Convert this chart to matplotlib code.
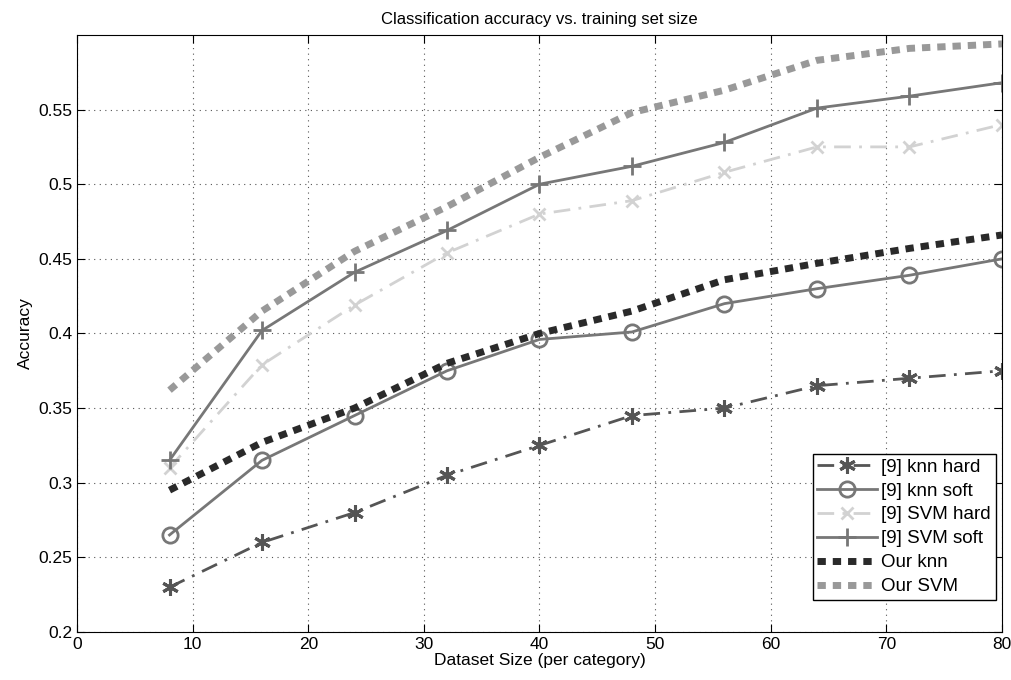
import numpy as np
import matplotlib
matplotlib.use('Agg')
import matplotlib.pyplot as plt

plt.rcParams['font.family'] = ['Liberation Sans', 'DejaVu Sans']

tamanhos = [8, 16, 24, 32, 40, 48, 56, 64, 72, 80]

knn_hard = [0.230, 0.260, 0.280, 0.305, 0.325, 0.345, 0.350, 0.365, 0.370, 0.375]
knn_soft = [0.265, 0.315, 0.345, 0.375, 0.396, 0.401, 0.420, 0.430, 0.439, 0.450]
svm_hard = [0.310, 0.379, 0.419, 0.454, 0.480, 0.489, 0.508, 0.525, 0.525, 0.540]
svm_soft = [0.315, 0.402, 0.441, 0.469, 0.500, 0.512, 0.528, 0.551, 0.559, 0.568]
our_knn = [0.295, 0.327, 0.350, 0.380, 0.400, 0.415, 0.436, 0.447, 0.457, 0.466]
our_svm = [0.362, 0.415, 0.455, 0.485, 0.518, 0.548, 0.563, 0.583, 0.591, 0.594]

# asterisco estilo MATLAB (6 bracos)
asterisco = (6, 2, 0)
traco_ponto = (0, (6, 3, 1, 3))
pontilhado = (0, (1.2, 1.0))

fig = plt.figure(figsize=(10.12, 6.8), dpi=100)
ax = fig.add_axes([0.0761, 0.0706, 0.914, 0.878])

ax.plot(tamanhos, knn_hard, color='#555555', linestyle=traco_ponto, linewidth=2,
        marker=asterisco, markersize=12, markeredgewidth=2.2, label='[9] knn hard')
ax.plot(tamanhos, knn_soft, color='#777777', linestyle='-', linewidth=2,
        marker='o', markersize=11, markerfacecolor='none', markeredgewidth=2,
        label='[9] knn soft')
ax.plot(tamanhos, svm_hard, color='#d2d2d2', linestyle=traco_ponto, linewidth=2,
        marker='x', markersize=9, markeredgewidth=2, label='[9] SVM hard')
ax.plot(tamanhos, svm_soft, color='#777777', linestyle='-', linewidth=2,
        marker='+', markersize=13, markeredgewidth=2, label='[9] SVM soft')
ax.plot(tamanhos, our_knn, color='#2a2a2a', linestyle=pontilhado,
        linewidth=5, label='Our knn')
ax.plot(tamanhos, our_svm, color='#999999', linestyle=pontilhado,
        linewidth=5, label='Our SVM')

ax.set_xlim(0, 80)
ax.set_ylim(0.2, 0.6)
ax.set_xticks(np.arange(0, 81, 10))
ax.set_yticks([0.2, 0.25, 0.3, 0.35, 0.4, 0.45, 0.5, 0.55])
ax.set_yticklabels(['0.2', '0.25', '0.3', '0.35', '0.4', '0.45', '0.5', '0.55'])
ax.tick_params(direction='in', top=True, right=True, length=6, labelsize=12.5)

ax.set_title('Classification accuracy vs. training set size', fontsize=12, pad=8)
ax.set_xlabel('Dataset Size (per category)', fontsize=12.5, labelpad=1)
ax.set_ylabel('Accuracy', fontsize=12.5)

ax.grid(True, color='#555555', linestyle=(0, (1, 4)), linewidth=0.8)

leg = ax.legend(loc='lower right', fontsize=13.5, fancybox=False, framealpha=1,
                edgecolor='black', handlelength=3.2, borderpad=0.25,
                labelspacing=0.36, handletextpad=0.2, borderaxespad=0,
                bbox_to_anchor=(0.993, 0.054))
leg.get_frame().set_linewidth(1)

fig.savefig('out.png', dpi=100)
